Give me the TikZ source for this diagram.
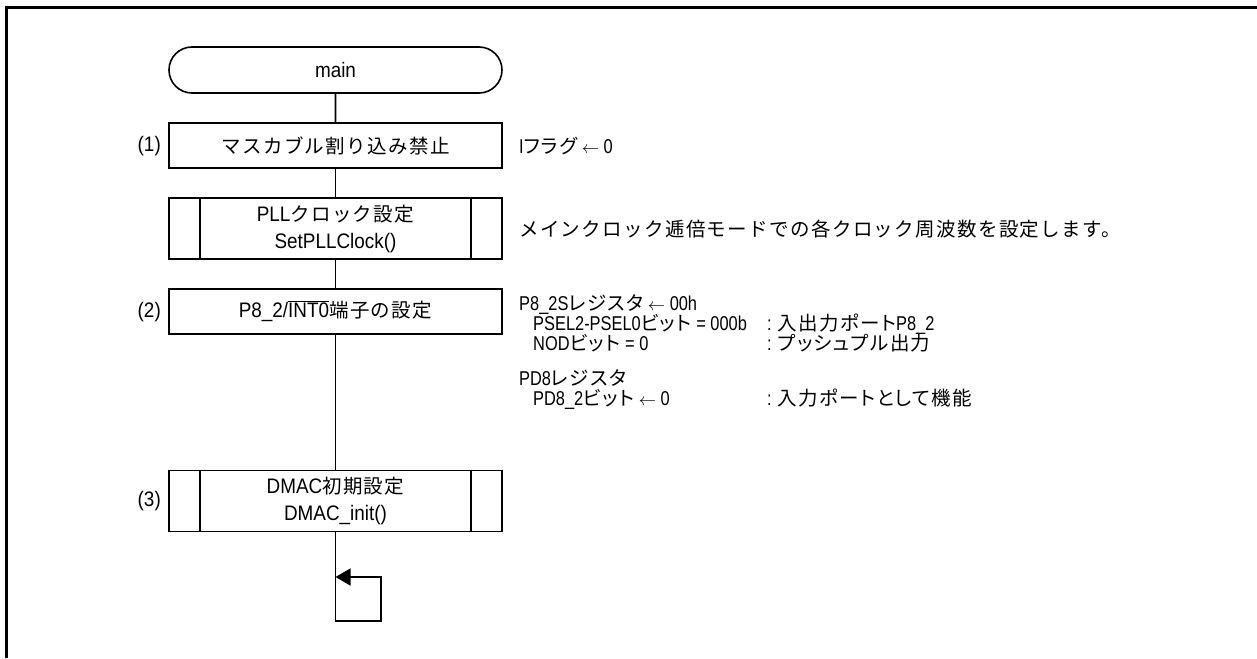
\documentclass[tikz,border=0pt]{standalone}
\usepackage{fontspec}
\setmainfont{Liberation Sans}[FakeStretch=0.9]
\newfontfamily\cmtlat{Liberation Sans}[FakeStretch=0.82]
\newfontfamily\jpfont{Noto Sans CJK JP}[LetterSpace=7]
\newfontfamily\jpprop{Noto Sans CJK JP}[RawFeature=+palt, LetterSpace=7]
\usetikzlibrary{shapes.misc,arrows.meta}
\newcommand\J[1]{{\jpfont\fontsize{19.5}{27}\selectfont #1}}
\newcommand\Jp[1]{{\jpprop\fontsize{19.5}{27}\selectfont #1}}
\newcommand\ovl[1]{$\overline{\hbox{#1}}$}
\newcommand\la{{\fontsize{17}{17}\selectfont$\leftarrow$}}
\newcommand\fs{\fontsize{21}{27}\selectfont}
\newcommand\cfs{\cmtlat\fontsize{20}{27}\selectfont}
\tikzset{
  ln/.style={line width=1.6pt},
  proc/.style={draw, ln, minimum width=333pt, minimum height=45pt, inner sep=0pt, align=center, font=\fs},
  subproc/.style={proc, minimum height=61pt},
  term/.style={draw, ln, rounded rectangle, minimum width=333pt, minimum height=46pt, inner sep=0pt, font=\fs},
  lbl/.style={anchor=east, font=\fs, inner sep=0pt},
  cmt/.style={anchor=base west, font=\cfs, inner sep=0pt},
}
\begin{document}
\begin{tikzpicture}[x=1pt,y=-1pt]
\useasboundingbox (0,0) rectangle (1257,658);
\fill[white] (0,0) rectangle (1257,658);
\draw[line width=3pt] (6.5,658) -- (6.5,7.5) -- (1257,7.5);

\node[term] (main) at (335.5,70) {main};
\node[proc] (b1) at (335.5,145.5) {\J{マスカブル割り込み禁止}};
\node[subproc] (pll) at (335.5,228.5) {PLL\J{クロック設定}\\SetPLLClock()};
\node[proc] (b2) at (335.5,311.5) {P8\_2/\ovl{INT0}\J{端子の設定}};
\node[subproc] (b3) at (335.5,501) {DMAC\J{初期設定}\\DMAC\_init()};

\foreach \n in {pll,b3} {
  \draw[ln] ([xshift=32pt]\n.north west) -- ([xshift=32pt]\n.south west);
  \draw[ln] ([xshift=-32pt]\n.north east) -- ([xshift=-32pt]\n.south east);
}

\draw[ln] (main) -- (b1);
\draw[ln] (b1) -- (pll);
\draw[ln] (pll) -- (b2);
\draw[ln] (b2) -- (b3);
\coordinate (lpa) at (381,621);
\coordinate (lpb) at (335.5,577);
\draw[ln,-{Triangle[length=15pt,width=17pt]}] (b3.south) |- (lpa) -- (lpa |- lpb) -- (lpb);

\node[lbl] (l1) at (161,146) {(1)};
\node[lbl] (l2) at (161,312) {(2)};
\node[lbl] (l3) at (161,501) {(3)};

\node[cmt] (t1) at (519,153) {I\Jp{フラグ} \la\ 0};
\node[cmt] (t2) at (519,236) {\J{メインクロック逓倍モードでの各クロック周波数を設定します。}};
\node[cmt] (t3) at (519,310) {P8\_2S\Jp{レジスタ} \la\ 00h};
\node[cmt] (t4) at (533,330) {PSEL2-PSEL0\Jp{ビット} = 000b};
\node[cmt] (t5) at (767,330) {: \Jp{入出力ポート}P8\_2};
\node[cmt] (t6) at (533,350) {NOD\Jp{ビット} = 0};
\node[cmt] (t7) at (767,350) {: \Jp{プッシュプル出力}};
\node[cmt] (t8) at (519,385) {PD8\Jp{レジスタ}};
\node[cmt] (t9) at (533,405) {PD8\_2\Jp{ビット} \la\ 0};
\node[cmt] (t10) at (767,405) {: \Jp{入力ポートとして機能}};
\end{tikzpicture}
\end{document}
